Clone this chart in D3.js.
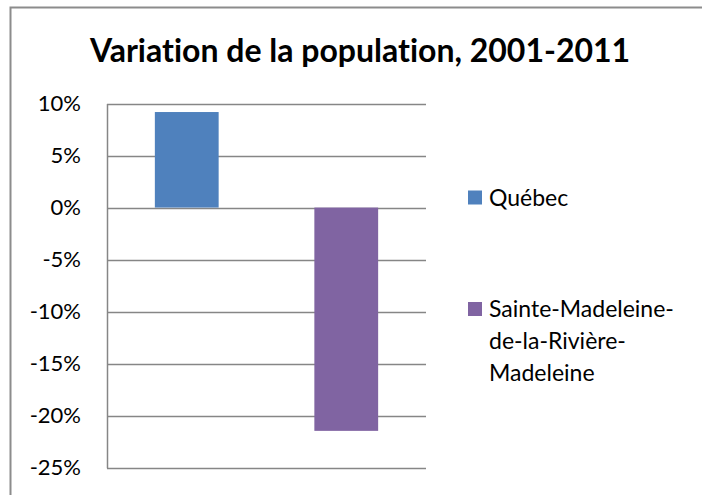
<!DOCTYPE html>
<html lang="fr">
<head>
    <meta charset="UTF-8">
    <title>Variation de la population, 2001-2011</title>
    <script src="https://d3js.org/d3.v7.min.js"></script>
    <style>
        body {
            margin: 0;
            background: #fff;
            font-family: Lato, "Open Sans", sans-serif;
        }
        svg text {
            font-variant-ligatures: none;
        }
    </style>
</head>
<body>
    <script>
        // Data
        const regions = ["Québec", "Sainte-Madeleine-de-la-Rivière-Madeleine"];
        const variations = [0.0918, -0.2146];
        const colors = ["#4F81BD", "#8064A2"];
        const legendLines = [["Québec"], ["Sainte-Madeleine-", "de-la-Rivière-", "Madeleine"]];
        const yTicks = [0.10, 0.05, 0, -0.05, -0.10, -0.15, -0.20, -0.25];

        const width = 702;
        const height = 495;
        const plot = {left: 107, right: 426, top: 103.5, bottom: 467.7};

        const svg = d3.select("body")
            .append("svg")
            .attr("width", width)
            .attr("height", height);

        // Chart outer border
        svg.append("rect")
            .attr("x", 10.5)
            .attr("y", 7.5)
            .attr("width", 720)
            .attr("height", 520)
            .attr("fill", "white")
            .attr("stroke", "#8c8c8c")
            .attr("stroke-width", 2);

        // Title
        svg.append("text")
            .attr("x", 360)
            .attr("y", 62)
            .attr("text-anchor", "middle")
            .style("font-size", "32px")
            .style("font-weight", "bold")
            .text("Variation de la population, 2001-2011");

        // Scales
        const x = d3.scaleBand()
            .domain(regions)
            .range([plot.left, plot.right])
            .paddingInner(0.6)
            .paddingOuter(0.3);

        const y = d3.scaleLinear()
            .domain([-0.25, 0.10])
            .range([plot.bottom, plot.top]);

        // Gridlines
        svg.append("g")
            .selectAll("line")
            .data(yTicks)
            .join("line")
            .attr("x1", plot.left)
            .attr("x2", plot.right)
            .attr("y1", d => Math.round(y(d)) + 0.5)
            .attr("y2", d => Math.round(y(d)) + 0.5)
            .attr("stroke", "#868686")
            .attr("stroke-width", 1.5);

        // Y axis
        const yAxis = d3.axisLeft(y)
            .tickValues(yTicks)
            .tickSize(0)
            .tickPadding(26)
            .tickFormat(d => Math.round(d * 100) + "%");

        const yAxisG = svg.append("g")
            .attr("transform", `translate(${plot.left}, 0)`)
            .call(yAxis);
        yAxisG.select(".domain")
            .attr("stroke", "#868686")
            .attr("stroke-width", 1.5);
        yAxisG.selectAll("text")
            .style("font-family", "Lato, sans-serif")
            .style("font-size", "22px")
            .attr("fill", "#000");

        // Bars
        svg.append("g")
            .selectAll("rect")
            .data(regions)
            .join("rect")
            .attr("x", d => x(d))
            .attr("width", x.bandwidth())
            .attr("y", (d, i) => y(Math.max(0, variations[i])))
            .attr("height", (d, i) => Math.abs(y(variations[i]) - y(0)))
            .attr("fill", (d, i) => colors[i]);

        // Legend
        const legendY = [197.5, 309];
        const legend = svg.append("g");
        regions.forEach((r, i) => {
            legend.append("rect")
                .attr("x", 468)
                .attr("y", legendY[i] - 7)
                .attr("width", 14)
                .attr("height", 14)
                .attr("fill", colors[i]);
            legend.append("text")
                .attr("x", 489)
                .attr("y", legendY[i])
                .attr("dy", "0.35em")
                .style("font-size", "23px")
                .selectAll("tspan")
                .data(legendLines[i])
                .join("tspan")
                .attr("x", 489)
                .attr("dy", (d, j) => j === 0 ? "0.35em" : 32)
                .text(d => d);
        });
    </script>
</body>
</html>
